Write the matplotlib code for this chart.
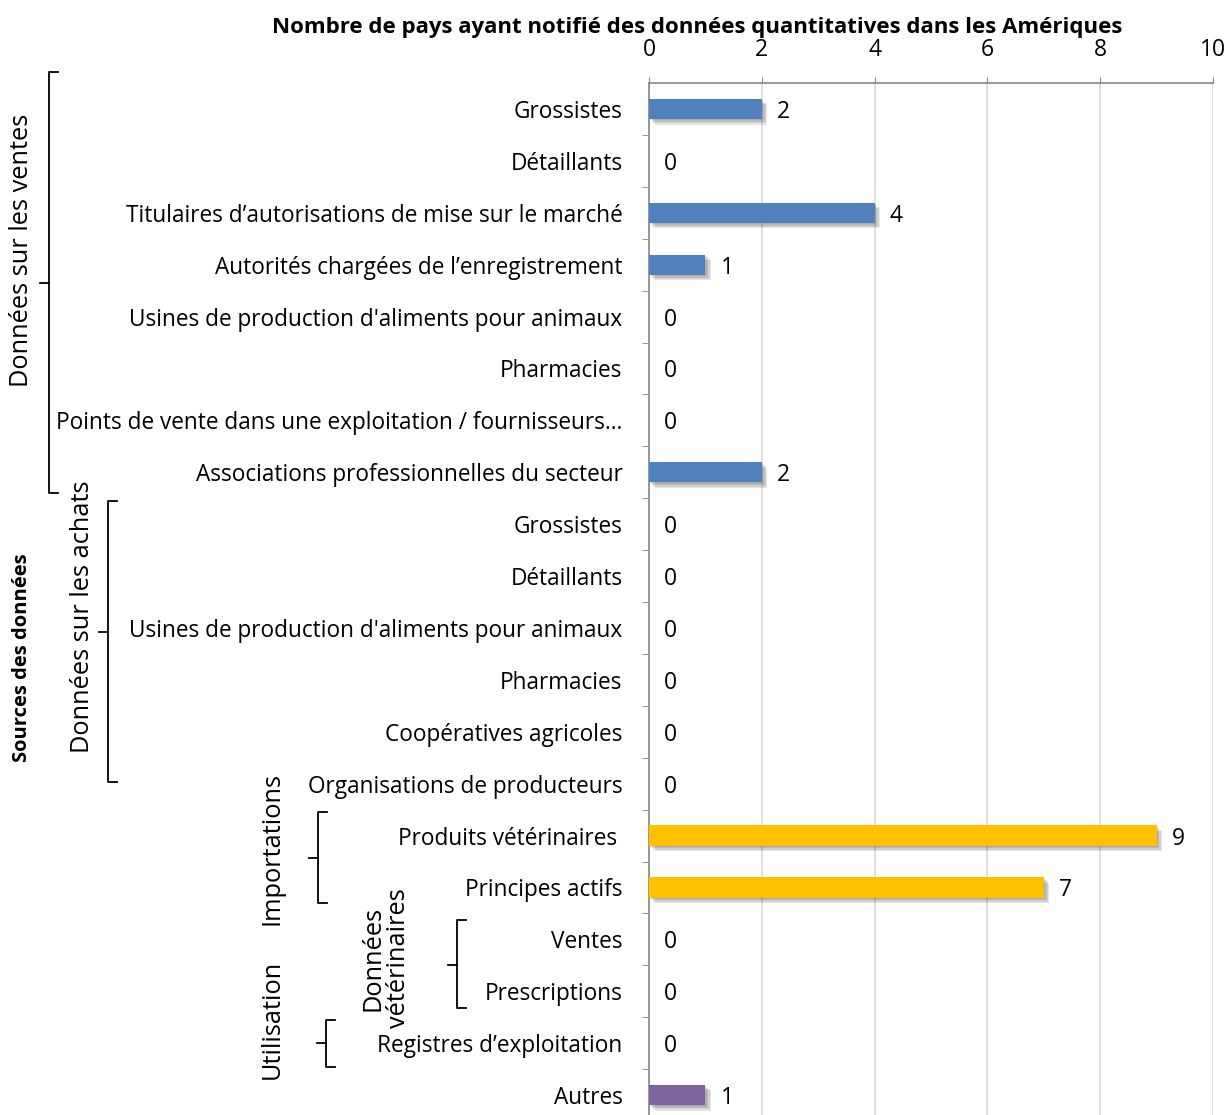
import matplotlib
matplotlib.use("Agg")
import matplotlib.pyplot as plt
import matplotlib.transforms as mtransforms
import matplotlib.patheffects as pe

plt.rcParams['font.family'] = ['Open Sans', 'DejaVu Sans']

categories = [
    "Grossistes",
    "Détaillants",
    "Titulaires d’autorisations de mise sur le marché",
    "Autorités chargées de l’enregistrement",
    "Usines de production d'aliments pour animaux",
    "Pharmacies",
    "Points de vente dans une exploitation / fournisseurs…",
    "Associations professionnelles du secteur",
    "Grossistes",
    "Détaillants",
    "Usines de production d'aliments pour animaux",
    "Pharmacies",
    "Coopératives agricoles",
    "Organisations de producteurs",
    "Produits vétérinaires ",
    "Principes actifs",
    "Ventes",
    "Prescriptions",
    "Registres d’exploitation",
    "Autres",
]
values = [2, 0, 4, 1, 0, 0, 0, 2, 0, 0, 0, 0, 0, 0, 9, 7, 0, 0, 0, 1]
groups = ["ventes"] * 8 + ["achats"] * 6 + ["import"] * 2 + ["vet"] * 2 + ["ferme", "autres"]
group_colors = {"ventes": "#4F81BD", "achats": "#4F81BD", "import": "#FFC000",
                "vet": "#4F81BD", "ferme": "#4F81BD", "autres": "#8064A2"}
x_ticks = [0, 2, 4, 6, 8, 10]
title = "Nombre de pays ayant notifié des données quantitatives dans les Amériques"

W, H = 1231, 1115
fig = plt.figure(figsize=(W / 100, H / 100), dpi=100)
ax = fig.add_axes([649 / W, 1 - 1121 / H, (1213 - 649) / W, (1121 - 83) / H])

n = len(categories)
ypos = list(range(n))
colors = [group_colors[g] for g in groups]
bars = ax.barh(ypos, values, height=0.39, color=colors, zorder=3)
shadow = [pe.SimplePatchShadow(offset=(o, -o), shadow_rgbFace="#404040", alpha=0.13)
          for o in (1, 2, 3, 4)]
for b in bars:
    b.set_path_effects(shadow + [pe.Normal()])

for y, v in zip(ypos, values):
    ax.annotate(str(v), (v, y), xytext=(11, 0), textcoords="offset points",
                ha="left", va="center_baseline", fontsize=16.5, color="black")

ax.set_xlim(0, 10)
ax.set_ylim(n - 0.5, -0.5)
ax.set_xticks(x_ticks)
ax.xaxis.tick_top()
ax.tick_params(axis="x", which="major", direction="out", length=4, color="#868686",
               labelsize=16.5, pad=11)
ax.set_yticks(ypos)
ax.set_yticklabels(categories)
ax.set_yticks([k + 0.5 for k in range(n - 1)], minor=True)
ax.tick_params(axis="y", which="major", length=0, labelsize=16.3, pad=19)
ax.tick_params(axis="y", which="minor", direction="out", length=5, color="#868686")
ax.grid(axis="x", color="#d9d9d9", linewidth=1.2, zorder=0)
ax.set_axisbelow(True)
for s in ["right", "bottom"]:
    ax.spines[s].set_visible(False)
for s in ["left", "top"]:
    ax.spines[s].set_color("#868686")
    ax.spines[s].set_linewidth(1.2)

fig.text(697 / W, 1 - 28 / H, title, ha="center", va="center", fontsize=16, fontweight="bold")

# group labels and brackets (x in figure fraction, y in category units)
tr = mtransforms.blended_transform_factory(fig.transFigure, ax.transData)


def bracket(xpx, y0, y1, ym, hook=9, notch=9):
    x = xpx / W
    h = hook / W
    nn = notch / W
    ax.plot([x + h, x, x, x + h], [y0, y0, y1, y1], transform=tr, color="black",
            lw=1.3, clip_on=False, solid_joinstyle="round")
    ax.plot([x, x - nn], [ym, ym], transform=tr, color="black", lw=1.3, clip_on=False)


def group_label(xpx, y, text, bold=False, spacing=0.85):
    ax.text(xpx / W, y, text, transform=tr, rotation=90, ha="center", va="center",
            fontsize=18.3 if not bold else 14.5, fontweight="bold" if bold else "normal",
            clip_on=False, linespacing=spacing)


bracket(49, -0.71, 7.4, 3.35)
group_label(22, 2.72, "Données sur les ventes")
bracket(108, 7.55, 12.97, 10.08)
group_label(83, 9.79, "Données sur les achats")
group_label(22, 10.58, "Sources des données", bold=True)
bracket(318, 13.55, 15.3, 14.43)
group_label(272, 14.24, "Importations")
bracket(326, 17.55, 18.46, 18.0)
group_label(272, 17.55, "Utilisation")
bracket(457, 15.63, 17.32, 16.5)
group_label(386, 16.36, "Données\nvétérinaires", spacing=1.05)

fig.savefig("out.png", dpi=100)
